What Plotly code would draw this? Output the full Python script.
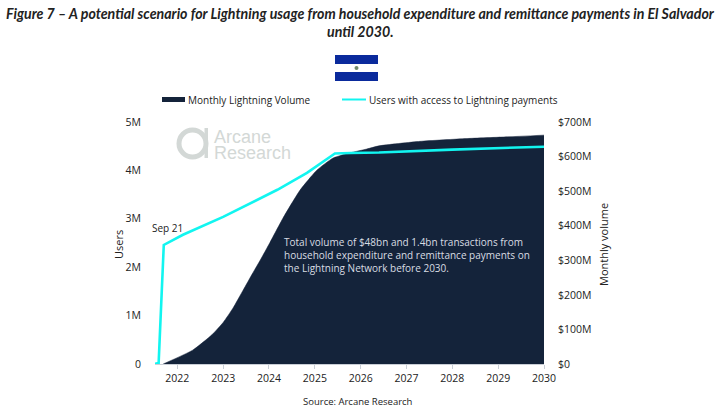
import plotly.graph_objects as go

# ---- data ----
volume_dates = ["2021-09-10", "2022-05-03", "2022-10-05", "2023-01-01", "2023-03-21", "2023-06-10", "2023-08-25",
                "2023-10-23", "2024-01-10", "2024-04-22", "2024-09-05", "2025-01-18", "2025-05-27", "2025-10-12",
                "2026-02-20", "2026-05-27", "2027-04-20", "2028-04-20", "2029-03-15", "2030-01-01"]
volume_m = [0, 40, 85, 120, 162, 214, 263, 300, 352, 422, 503, 561, 596, 611, 622, 631, 644, 652, 657, 662]
user_dates = ["2021-07-01", "2021-08-05", "2021-09-15", "2022-02-15", "2023-01-01", "2023-08-03", "2024-03-08",
              "2024-10-30", "2025-06-10", "2025-10-12", "2026-05-27", "2028-01-01", "2030-01-01"]
users_m = [0, 0.02, 2.46, 2.67, 3.04, 3.31, 3.60, 3.95, 4.35, 4.36, 4.37, 4.43, 4.49]
year_ticks = ["2022-01-01", "2023-01-01", "2024-01-01", "2025-01-01", "2026-01-01", "2027-01-01",
              "2028-01-01", "2029-01-01", "2030-01-01"]
year_labels = ["2022", "2023", "2024", "2025", "2026", "2027", "2028", "2029", "2030"]
user_ticks = [0, 1, 2, 3, 4, 5]
user_labels = ["0", "1M", "2M", "3M", "4M", "5M"]
vol_ticks = [0, 100, 200, 300, 400, 500, 600, 700]
vol_labels = ["$0", "$100M", "$200M", "$300M", "$400M", "$500M", "$600M", "$700M"]

FONT = "Open Sans"
TXT = "#222222"
NAVY = "#14233a"
CYAN = "#12f5f0"
L, R, T, B = 155, 544, 122, 364
W, H = 724, 409
def px(x): return (x - L) / (R - L)
def py(y): return (B - y) / (B - T)

fig = go.Figure()
fig.add_trace(go.Scatter(x=volume_dates, y=volume_m, name="Monthly Lightning Volume", mode="lines",
                         fill="tozeroy", fillcolor=NAVY, line=dict(color=NAVY, width=0.5, shape="spline", smoothing=0.5),
                         yaxis="y"))
fig.add_trace(go.Scatter(x=user_dates, y=users_m, name="Users with access to Lightning payments", mode="lines",
                         line=dict(color=CYAN, width=2.6), yaxis="y2"))

def rect(x0, y0, x1, y1, color):
    return dict(type="rect", xref="paper", yref="paper", x0=px(x0), x1=px(x1), y0=py(y0), y1=py(y1),
                fillcolor=color, line_width=0, layer="above")
shapes = [rect(335, 55, 378, 64, "#0a2a9c"), rect(335, 72, 378, 81, "#0a2a9c"),
          rect(204.5, 128, 208, 158, "#d3d8d6"),
          rect(162, 97, 185, 102, NAVY), rect(342, 98.5, 366, 100.5, CYAN),
          dict(type="circle", xref="paper", yref="paper", x0=px(179), x1=px(206), y0=py(130), y1=py(157),
               line=dict(color="#d3d8d6", width=5), fillcolor="rgba(0,0,0,0)"),
          dict(type="circle", xref="paper", yref="paper", x0=px(354.5), x1=px(358.5), y0=py(66), y1=py(70),
               line_width=0, fillcolor="#6f8a6a")]

def note(text, x, y, size, color=TXT, anchor="left", **kw):
    return dict(text=text, x=px(x), y=py(y), xref="paper", yref="paper", showarrow=False, xanchor=anchor,
                yanchor="middle", font=dict(family=kw.pop("family", FONT), size=size, color=color), align=anchor,
                borderpad=0, **kw)

annotations = [
    note("<b><i>Figure 7 – A potential scenario for Lightning usage from household expenditure and remittance payments in El Salvador</i></b>",
         360, 13, 14.2, anchor="center", family="Lato"),
    note("<b><i>until 2030.</i></b>", 360, 32, 14.2, anchor="center", family="Lato"),
    note("Monthly Lightning Volume", 187, 100, 10),
    note("Users with access to Lightning payments", 368, 100, 10),
    note("Sep 21", 151, 228, 10),
    note("Users", 118, 245, 11, anchor="center", textangle=-90),
    note("Monthly volume", 603, 245, 11, anchor="center", textangle=-90),
    note("Total volume of $48bn and 1.4bn transactions from<br>household expenditure and remittance payments on<br>"
         "the Lightning Network before 2030.", 283, 254.5, 10, color="#d9dde3"),
    note("Source: Arcane Research", 358, 401, 9.5, anchor="center"),
    note("Arcane", 213, 137, 18, color="#d3d8d6", family="Liberation Sans"),
    note("Research", 213, 153, 18, color="#d3d8d6", family="Liberation Sans"),
]

fig.update_layout(
    width=W, height=H, autosize=False, template=None,
    paper_bgcolor="white", plot_bgcolor="white",
    margin=dict(l=L, r=W - R, t=T, b=H - B, pad=0),
    font=dict(family=FONT, size=10.5, color=TXT),
    showlegend=False,
    xaxis=dict(type="date", range=["2021-07-07", "2030-01-01"], tickmode="array", tickvals=year_ticks,
               ticktext=year_labels, showgrid=False, showline=True, linecolor="#c9ced6", linewidth=1,
               ticks="outside", ticklen=4, tickcolor="#c9ced6", zeroline=False),
    yaxis=dict(range=[0, 700], side="right", tickmode="array", tickvals=vol_ticks, ticktext=vol_labels,
               showgrid=False, zeroline=False, ticks="outside", ticklen=11, tickcolor="rgba(0,0,0,0)"),
    yaxis2=dict(range=[0, 5], side="left", overlaying="y", tickmode="array", tickvals=user_ticks,
                ticktext=user_labels, showgrid=False, zeroline=False, ticks="outside", ticklen=11,
                tickcolor="rgba(0,0,0,0)"),
    shapes=shapes, annotations=annotations,
)
fig.write_html("out.html", config=dict(displayModeBar=False), post_script="document.body.style.margin='0';")
